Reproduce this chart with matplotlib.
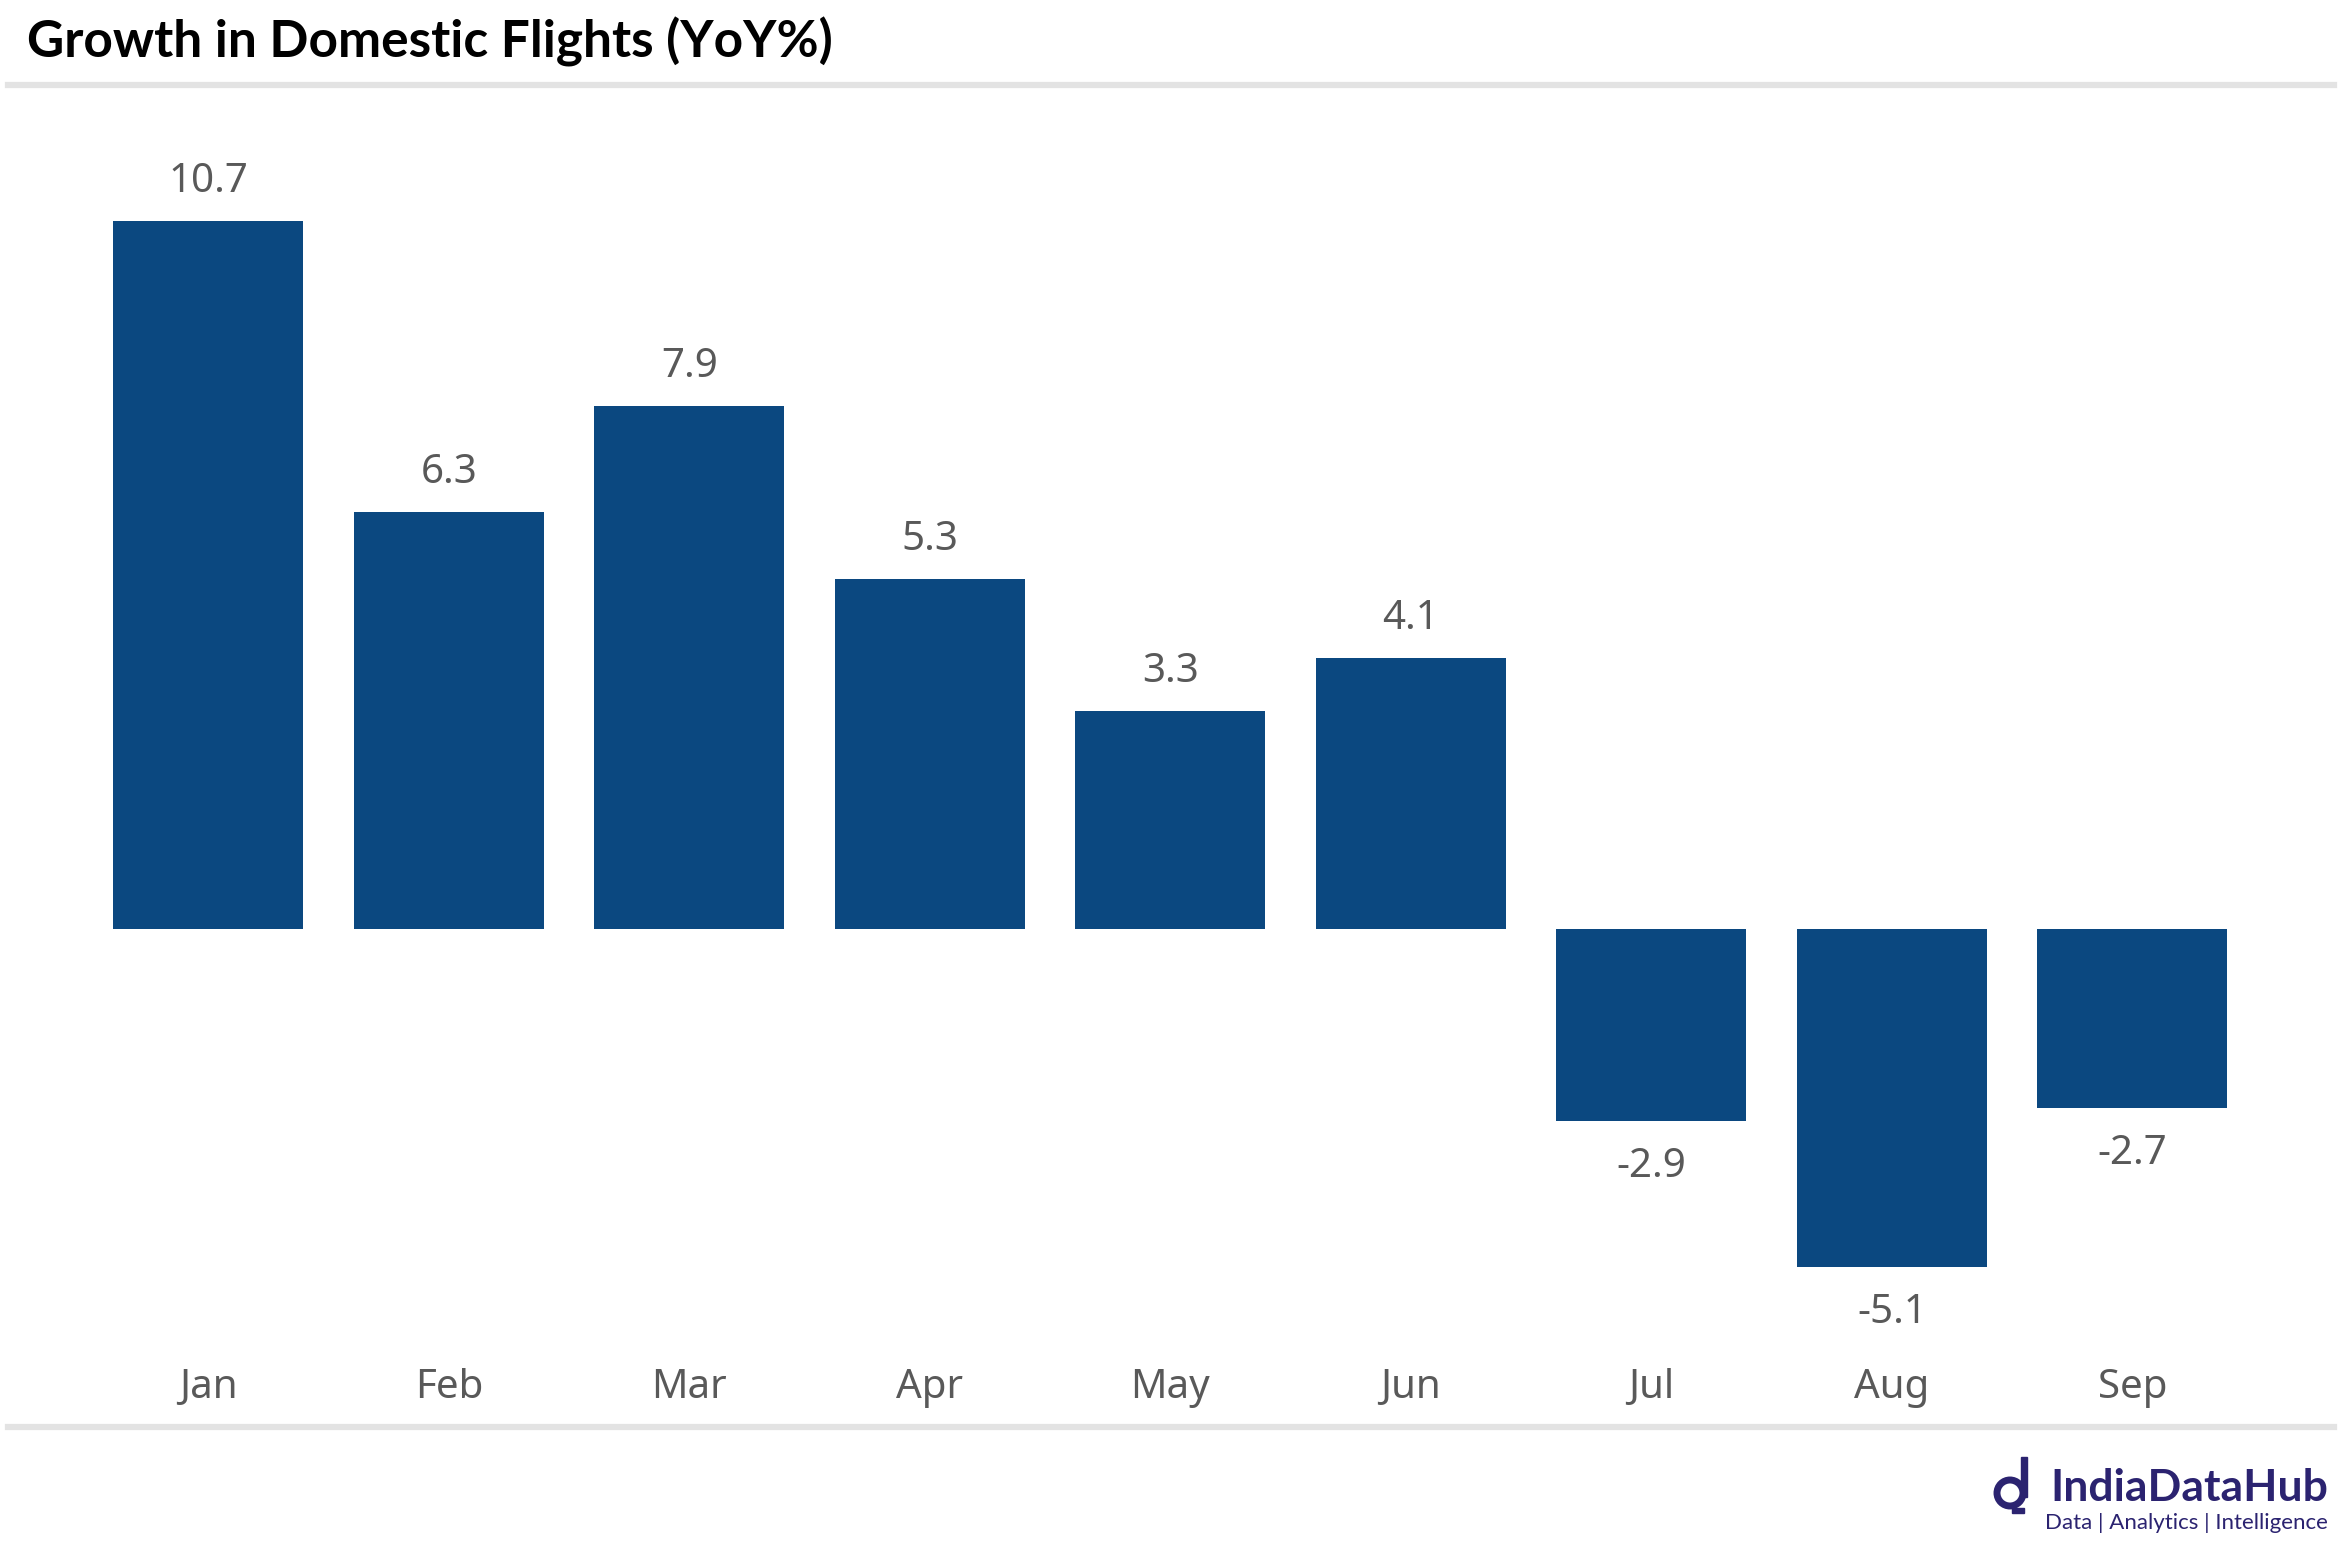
import matplotlib
matplotlib.use("Agg")
import matplotlib.pyplot as plt
from matplotlib.patches import Circle, Rectangle
from matplotlib.lines import Line2D

months = ["Jan", "Feb", "Mar", "Apr", "May", "Jun", "Jul", "Aug", "Sep"]
growth = [10.7, 6.3, 7.9, 5.3, 3.3, 4.1, -2.9, -5.1, -2.7]
title = "Growth in Domestic Flights (YoY%)"

plt.rcParams['font.family'] = ['Noto Sans', 'DejaVu Sans']

W, H = 2343, 1550
fig = plt.figure(figsize=(W/100, H/100), dpi=100)
fig.patch.set_facecolor("white")

ax = fig.add_axes([0.0376, 0.1325, 0.9238, 0.7711])
x = list(range(len(months)))
bars = ax.bar(x, growth, width=0.79, color="#0b4880")
ax.set_xlim(-0.5, len(months) - 0.5)
ax.set_ylim(-6.27, 11.78)
for s in ax.spines.values():
    s.set_visible(False)
ax.set_yticks([])
ax.set_xticks(x)
ax.set_xticklabels(months, fontsize=29, color="#595959")
ax.tick_params(axis="x", length=0, pad=17)

for xi, v in zip(x, growth):
    off = 28 if v >= 0 else -33
    ax.annotate(f"{v:.1f}", (xi, v), xytext=(0, off), textcoords="offset points",
                ha="center", va="center", fontsize=29, color="#595959")

# Title and separator lines
fig.text(27/W, 1 - 42/H, title, fontsize=37, fontweight="bold", color="black",
         ha="left", va="center", family=["Lato", "DejaVu Sans"])
fig.add_artist(Line2D([8/W, 2334/W], [1 - 85/H, 1 - 85/H], color="#e3e3e3", lw=4.5))
fig.add_artist(Line2D([8/W, 2334/W], [1 - 1427/H, 1 - 1427/H], color="#e3e3e3", lw=4.5))

# Logo
navy = "#2b2370"
fig.text(2050/W, 1 - 1488/H, "IndiaDataHub", fontsize=32, fontweight="bold",
         color=navy, ha="left", va="center", family=["Lato", "DejaVu Sans"])
fig.text(2328/W, 1 - 1523/H, "Data | Analytics | Intelligence", fontsize=16,
         color=navy, ha="right", va="center", family=["Lato", "DejaVu Sans"])
# icon: ring + stem
lax = fig.add_axes([1990/W, 1 - 1515/H, 50/W, 60/H])
lax.set_xlim(0, 50); lax.set_ylim(0, 60); lax.axis("off")
lax.add_patch(Circle((20, 22), 13, fill=False, lw=5, ec=navy))
lax.add_patch(Rectangle((31, 18), 5.5, 40, color=navy))
lax.add_patch(Rectangle((22, 2), 12, 5, color=navy))

fig.savefig("out.png", dpi=100, facecolor="white")
